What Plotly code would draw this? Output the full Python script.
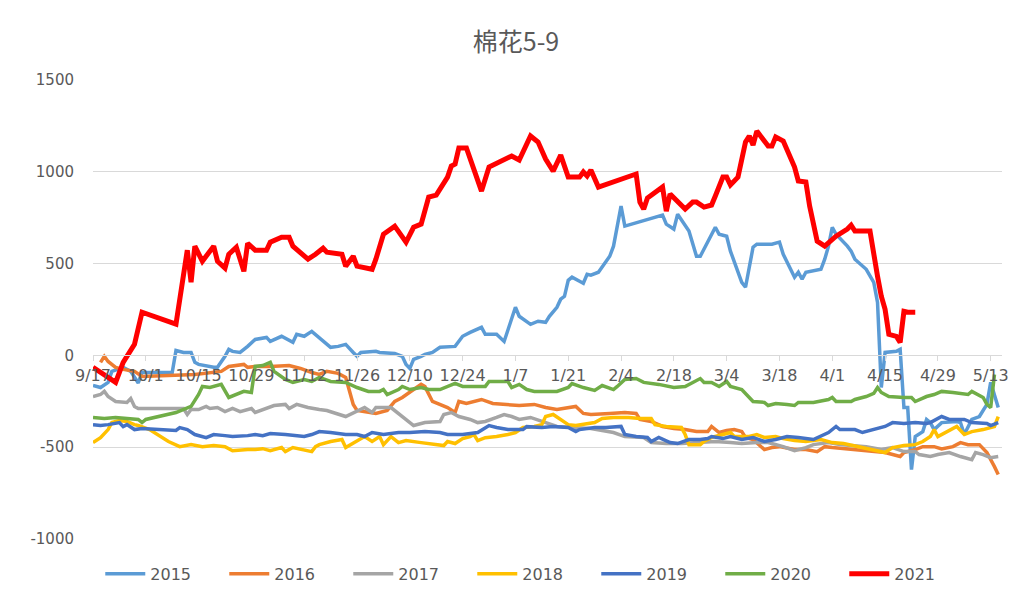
import plotly.graph_objects as go

title_text = "棉花5-9"
tick_labels = ["9/17", "10/1", "10/15", "10/29", "11/12", "11/26", "12/10", "12/24",
               "1/7", "1/21", "2/4", "2/18", "3/4", "3/18", "4/1", "4/15", "4/29", "5/13"]
y_ticks = [-1000, -500, 0, 500, 1000, 1500]
y_tick_text = ["-1000", "-500", "0", "500", "1000", "1500"]

d2015 = ["9/17","9/19","9/21","9/22","9/25","9/27","9/29","9/30","10/8","10/9","10/11","10/13","10/14","10/15","10/19","10/20","10/22","10/23","10/24","10/26","10/28","10/29","10/30","11/2","11/3","11/6","11/7","11/9","11/10","11/12","11/14","11/16","11/17","11/19","11/21","11/23","11/25","11/26","11/27","12/1","12/2","12/6","12/8","12/9","12/10","12/11","12/13","12/14","12/16","12/18","12/22","12/24","12/26","12/29","12/30","1/2","1/4","1/7","1/8","1/11","1/13","1/15","1/16","1/18","1/19","1/20","1/21","1/22","1/24","1/25","1/26","1/27","1/29","2/1","2/2","2/4","2/5","2/15","2/16","2/18","2/19","2/22","2/24","2/25","3/1","3/2","3/4","3/5","3/8","3/9","3/11","3/12","3/16","3/18","3/19","3/22","3/23","3/24","3/25","3/29","3/30","3/31","4/1","4/2","4/5","4/6","4/7","4/8","4/10","4/12","4/13","4/14","4/15","4/18","4/19","4/20","4/21","4/22","4/23","4/25","4/26","4/27","4/28","4/30","5/4","5/5","5/6","5/8","5/10","5/12","5/13","5/15"]
v2015 = [-164,-175,-147,-87,-65,-87,-150,-93,-93,27,16,16,-38,-49,-65,-65,-5,33,22,16,49,65,87,98,76,104,93,71,115,104,131,98,76,44,49,60,16,-5,16,22,16,10,-5,-49,-71,-22,-5,5,16,44,49,104,125,153,115,115,76,262,213,169,186,180,213,262,306,322,409,426,404,393,442,437,453,540,595,813,704,764,715,688,769,677,540,540,698,660,649,568,398,371,589,606,606,617,551,426,453,415,453,469,524,595,698,660,595,568,524,507,469,398,289,-175,16,22,33,-284,-284,-622,-442,-415,-349,-366,-404,-366,-360,-366,-431,-349,-333,-267,-147,-284]

d2016 = ["9/19","9/20","9/21","9/23","9/25","9/28","9/30","10/9","10/14","10/21","10/23","10/27","10/28","10/30","11/3","11/8","11/11","11/14","11/16","11/18","11/21","11/23","11/25","11/26","11/29","12/1","12/4","12/6","12/8","12/9","12/11","12/13","12/14","12/16","12/18","12/20","12/22","12/23","12/25","12/29","1/1","1/5","1/8","1/12","1/15","1/18","1/21","1/23","1/25","1/27","2/1","2/5","2/8","2/9","2/12","2/15","2/18","2/21","2/24","2/27","2/28","3/2","3/4","3/6","3/8","3/9","3/11","3/13","3/14","3/16","3/18","3/22","3/25","3/28","3/30","4/1","4/6","4/9","4/12","4/15","4/17","4/19","4/20","4/23","4/25","4/28","4/30","5/3","5/5","5/7","5/10","5/12","5/14","5/15"]
v2016 = [-38,-5,-33,-65,-76,-87,-115,-110,-104,-87,-60,-49,-65,-60,-60,-55,-71,-93,-104,-87,-98,-120,-267,-300,-311,-316,-300,-251,-229,-213,-186,-158,-170,-251,-267,-284,-311,-251,-262,-240,-262,-267,-273,-267,-284,-295,-284,-278,-316,-322,-316,-311,-316,-349,-360,-387,-398,-404,-415,-415,-387,-420,-409,-404,-415,-447,-458,-491,-513,-502,-497,-513,-513,-524,-497,-502,-513,-519,-524,-529,-540,-551,-529,-513,-497,-497,-510,-497,-475,-486,-486,-529,-606,-649]

d2017 = ["9/17","9/19","9/20","9/21","9/23","9/26","9/27","9/28","9/29","10/11","10/12","10/13","10/15","10/17","10/18","10/20","10/22","10/24","10/26","10/29","10/30","11/2","11/4","11/7","11/8","11/10","11/13","11/16","11/18","11/23","11/28","11/30","12/1","12/5","12/6","12/8","12/11","12/14","12/18","12/19","12/21","12/23","12/26","12/28","12/30","1/2","1/4","1/6","1/8","1/11","1/14","1/18","1/22","1/27","1/30","2/2","2/5","2/10","2/12","2/16","2/20","2/26","3/1","3/5","3/8","3/12","3/15","3/19","3/22","3/25","3/27","3/31","4/3","4/6","4/10","4/14","4/17","4/20","4/23","4/24","4/27","4/29","5/2","5/5","5/8","5/9","5/11","5/13","5/15"]
v2017 = [-224,-213,-196,-224,-251,-256,-235,-278,-289,-289,-322,-295,-295,-278,-289,-284,-306,-289,-306,-289,-311,-289,-273,-267,-289,-267,-284,-295,-300,-333,-284,-311,-284,-284,-300,-338,-382,-366,-360,-322,-311,-333,-349,-366,-360,-338,-322,-333,-349,-338,-360,-387,-393,-398,-409,-420,-442,-447,-475,-480,-480,-475,-469,-475,-480,-475,-475,-497,-519,-502,-486,-475,-486,-491,-497,-513,-502,-524,-524,-540,-551,-540,-529,-551,-568,-529,-540,-557,-551]

d2018 = ["9/17","9/19","9/21","9/22","9/24","9/26","9/28","9/29","10/2","10/7","10/10","10/13","10/16","10/19","10/22","10/24","10/28","10/30","11/1","11/3","11/6","11/7","11/9","11/12","11/14","11/15","11/16","11/19","11/22","11/23","11/26","11/28","11/30","12/2","12/3","12/5","12/7","12/9","12/13","12/15","12/17","12/19","12/20","12/22","12/24","12/26","12/27","12/28","12/30","1/2","1/5","1/7","1/9","1/12","1/14","1/15","1/17","1/19","1/21","1/23","1/26","1/28","1/30","2/2","2/6","2/9","2/12","2/13","2/16","2/20","2/21","2/22","2/25","2/26","2/28","3/3","3/5","3/6","3/10","3/12","3/14","3/17","3/19","3/22","3/25","3/29","4/1","4/4","4/8","4/11","4/14","4/15","4/17","4/20","4/23","4/25","4/27","4/28","4/29","5/1","5/4","5/6","5/8","5/11","5/14","5/15"]
v2018 = [-475,-448,-404,-366,-355,-360,-377,-382,-404,-469,-497,-486,-497,-491,-497,-519,-513,-513,-508,-519,-502,-524,-502,-513,-524,-497,-486,-469,-458,-502,-469,-442,-469,-442,-486,-442,-475,-464,-475,-480,-486,-491,-469,-480,-453,-442,-431,-464,-448,-442,-431,-420,-393,-387,-377,-333,-322,-349,-377,-382,-371,-366,-344,-338,-338,-344,-344,-377,-387,-393,-431,-486,-486,-469,-447,-431,-420,-442,-442,-431,-447,-442,-453,-464,-469,-458,-475,-480,-497,-508,-524,-529,-502,-491,-486,-469,-442,-404,-442,-420,-387,-431,-415,-404,-387,-333]

d2019 = ["9/17","9/19","9/21","9/24","9/25","9/26","9/28","9/30","10/9","10/10","10/12","10/14","10/17","10/19","10/22","10/24","10/28","10/30","11/1","11/3","11/7","11/9","11/12","11/14","11/16","11/19","11/23","11/26","11/28","11/30","12/3","12/7","12/10","12/14","12/18","12/20","12/24","12/28","12/30","12/31","1/2","1/5","1/9","1/10","1/14","1/17","1/21","1/23","1/24","1/28","1/31","2/4","2/5","2/8","2/11","2/12","2/14","2/17","2/19","2/22","2/25","2/27","2/28","3/3","3/5","3/8","3/11","3/14","3/17","3/20","3/23","3/27","3/31","4/2","4/3","4/7","4/9","4/12","4/15","4/17","4/20","4/23","4/26","4/27","4/30","5/2","5/6","5/8","5/12","5/13","5/15"]
v2019 = [-377,-382,-377,-366,-388,-377,-404,-398,-409,-393,-404,-431,-448,-431,-437,-442,-437,-431,-437,-426,-431,-437,-442,-431,-415,-420,-431,-431,-442,-420,-431,-420,-420,-415,-420,-431,-431,-420,-393,-382,-393,-404,-404,-388,-393,-387,-393,-415,-404,-393,-393,-387,-431,-442,-447,-469,-447,-475,-480,-458,-458,-453,-442,-453,-442,-458,-447,-469,-458,-442,-447,-458,-420,-387,-404,-404,-420,-404,-387,-366,-371,-366,-371,-366,-333,-349,-349,-366,-371,-382,-366]

d2020 = ["9/17","9/20","9/23","9/26","9/29","9/30","10/1","10/9","10/13","10/15","10/16","10/18","10/20","10/21","10/23","10/25","10/27","10/29","10/30","11/1","11/3","11/4","11/7","11/9","11/12","11/14","11/16","11/19","11/23","11/26","11/29","12/2","12/3","12/4","12/7","12/8","12/10","12/13","12/15","12/18","12/22","12/24","12/30","12/31","1/5","1/6","1/8","1/10","1/12","1/15","1/18","1/21","1/22","1/25","1/28","1/30","2/2","2/3","2/4","2/5","2/8","2/10","2/14","2/18","2/21","2/23","2/25","2/26","2/28","3/2","3/4","3/5","3/8","3/11","3/14","3/15","3/17","3/20","3/22","3/23","3/27","3/31","4/1","4/2","4/6","4/7","4/10","4/12","4/13","4/14","4/16","4/20","4/22","4/23","4/26","4/28","4/30","5/3","5/7","5/8","5/11","5/12","5/13","5/14"]
v2020 = [-338,-344,-338,-344,-349,-366,-349,-311,-278,-213,-169,-175,-164,-158,-229,-213,-196,-202,-60,-55,-38,-87,-131,-147,-131,-142,-120,-142,-147,-175,-196,-196,-186,-213,-186,-169,-186,-175,-186,-186,-153,-169,-169,-142,-142,-175,-158,-186,-196,-196,-196,-175,-153,-175,-191,-164,-186,-169,-147,-131,-126,-147,-158,-175,-169,-147,-126,-147,-147,-169,-142,-169,-186,-251,-256,-273,-262,-267,-273,-256,-256,-240,-229,-251,-251,-240,-224,-207,-175,-202,-224,-229,-229,-251,-224,-213,-196,-202,-213,-196,-229,-267,-284,-104]

d2021 = ["9/17","9/23","9/25","9/28","9/30","10/9","10/12","10/13","10/14","10/16","10/19","10/20","10/22","10/23","10/25","10/27","10/28","10/30","11/2","11/3","11/6","11/8","11/9","11/13","11/15","11/17","11/18","11/22","11/23","11/25","11/26","11/30","12/1","12/3","12/6","12/8","12/9","12/11","12/13","12/15","12/17","12/20","12/21","12/22","12/23","12/25","12/29","12/31","1/6","1/8","1/11","1/13","1/15","1/17","1/19","1/21","1/24","1/25","1/26","1/27","1/29","2/8","2/9","2/10","2/11","2/15","2/16","2/17","2/21","2/23","2/24","2/26","2/28","3/1","3/3","3/4","3/5","3/7","3/9","3/10","3/11","3/12","3/15","3/16","3/17","3/19","3/21","3/22","3/23","3/25","3/26","3/28","3/30","4/2","4/5","4/6","4/7","4/11","4/13","4/14","4/15","4/16","4/18","4/19","4/20","4/21","4/23"]
v2021 = [-65,-147,-38,60,235,170,573,398,595,513,595,513,475,551,589,458,611,573,573,617,644,644,595,524,551,584,562,551,486,540,486,469,524,660,704,644,617,698,715,862,873,971,1031,1042,1130,1130,895,1026,1086,1064,1195,1162,1070,1004,1091,971,971,999,977,1010,917,988,835,797,857,917,786,879,797,835,835,808,819,868,971,971,928,971,1162,1195,1146,1222,1140,1140,1190,1168,1070,1026,950,944,813,622,595,649,688,709,677,677,431,322,251,115,104,71,240,235,235]

series_names = ["2015", "2016", "2017", "2018", "2019", "2020", "2021"]
series_dates = [d2015, d2016, d2017, d2018, d2019, d2020, d2021]
series_vals = [v2015, v2016, v2017, v2018, v2019, v2020, v2021]
colors = ["#5B9BD5", "#ED7D31", "#A5A5A5", "#FFC000", "#4472C4", "#70AD47", "#FF0000"]
widths = [3.5, 3.5, 3.5, 3.5, 3.5, 3.5, 5]


def to_date(md):
    m, d = (int(p) for p in md.split("/"))
    y = 2020 if m >= 9 else 2021
    return f"{y}-{m:02d}-{d:02d}"


fig = go.Figure()
for name, ds, vs, c, w in zip(series_names, series_dates, series_vals, colors, widths):
    n = min(len(ds), len(vs))
    fig.add_trace(go.Scatter(
        x=[to_date(s) for s in ds[:n]], y=vs[:n], name=name, mode="lines",
        line=dict(color=c, width=w, shape="linear"),
    ))

tick_vals = [to_date(t) for t in tick_labels]
font_family = "DejaVu Sans, Noto Sans CJK SC, sans-serif"

fig.update_layout(
    width=1032, height=603,
    margin=dict(l=93, r=30, t=80, b=64, autoexpand=False),
    paper_bgcolor="white", plot_bgcolor="white",
    title=dict(text=title_text, x=0.5, xref="container", xanchor="center",
               y=1 - 42 / 603, yref="container", yanchor="middle",
               font=dict(family="Noto Sans CJK SC, sans-serif", size=25, color="#595959")),
    showlegend=True,
    legend=dict(orientation="h", x=0.008, xanchor="left", y=-0.076, yanchor="middle",
                font=dict(family=font_family, size=16, color="#595959"),
                entrywidth=69, itemwidth=40, traceorder="normal"),
    xaxis=dict(type="date", range=[to_date("9/17"), "2021-05-16"],
               tickmode="array", tickvals=tick_vals, ticktext=tick_labels,
               tickfont=dict(family=font_family, size=16, color="#595959"),
               anchor="free", position=0.4, showline=True, linecolor="#D9D9D9", linewidth=1,
               ticks="outside", ticklen=5, tickcolor="#D9D9D9", showgrid=False,
               zeroline=False),
    yaxis=dict(range=[-1000, 1500], tickmode="array", tickvals=y_ticks, ticktext=y_tick_text,
               tickfont=dict(family=font_family, size=15, color="#595959"),
               showgrid=True, gridcolor="#D9D9D9", gridwidth=1, zeroline=False,
               showline=False, ticklabelstandoff=18),
)

fig.write_html("out.html", config={"displayModeBar": False},
               post_script="document.body.style.margin='0';")
